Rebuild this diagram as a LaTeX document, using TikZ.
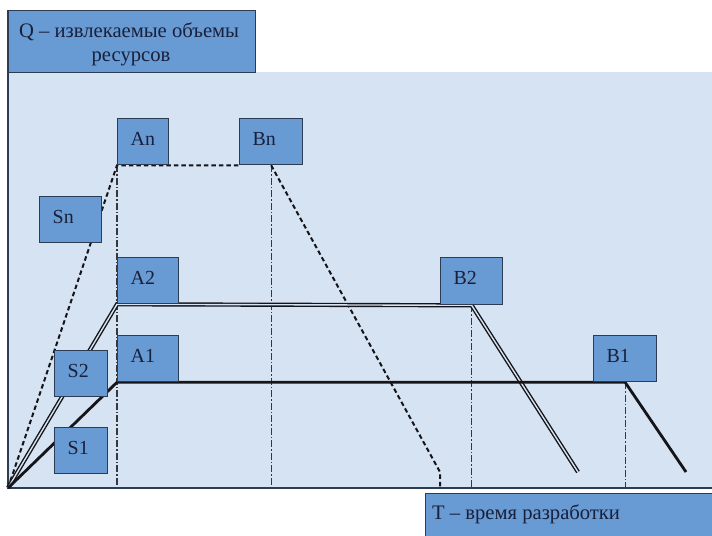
\documentclass[tikz,border=0pt]{standalone}
\usepackage{fontspec}
\setmainfont{Liberation Serif}
\definecolor{bgpanel}{RGB}{214,227,242}
\definecolor{boxfill}{RGB}{104,154,212}
\definecolor{boxline}{RGB}{45,60,85}
\definecolor{txt}{RGB}{25,32,58}
\definecolor{ink}{RGB}{20,20,25}
\tikzset{
  lbox/.style={draw=boxline, fill=boxfill, line width=1.3bp, anchor=north west,
    inner sep=0pt},
  ltext/.style={text=txt, font=\fontsize{20}{22}\selectfont, inner sep=0pt, anchor=base west},
  sline/.style={draw=ink, line width=2.8bp, line join=miter},
  dline/.style={draw=ink, line width=1.4bp, double=bgpanel, double distance=1.4bp},
  dashline/.style={draw=ink, line width=2bp, dash pattern=on 4.5bp off 3bp},
  dotdash/.style={draw=ink!85, line width=1.2bp, dash pattern=on 7bp off 2bp on 1.5bp off 2bp},
}
\begin{document}
\begin{tikzpicture}[x=1bp,y=-1bp]
\useasboundingbox (0,0) rectangle (712,536);
% panel
\fill[bgpanel] (8,72) rectangle (712,488);
\coordinate (O) at (8,488);
% axis
\draw[boxline, line width=1.8bp] (8,10) -- (O) -- (712,488);
% axis label boxes
\node[lbox, minimum width=247bp, minimum height=62bp] (Q) at (8,10) {};
\node[ltext, font=\fontsize{20.7}{22}\selectfont] (Qt1) at (19,38) {Q -- извлекаемые объемы};
\node[ltext, font=\fontsize{20.7}{22}\selectfont, anchor=base] (Qt2) at (131,62) {ресурсов};
\node[lbox, minimum width=300bp, minimum height=46bp] (T) at (425,493) {};
\node[ltext, font=\fontsize{20.7}{22}\selectfont] (Tt) at (432,519) {T -- время разработки};
% coordinates for free ends
\coordinate (dE) at (440,472);
\coordinate (dF) at (440,488);
\coordinate (e2) at (578,472);
\coordinate (e1) at (686,472);
% point boxes (positions)
\path
  (117,118) node[lbox, minimum width=51bp, minimum height=46bp] (An) {}
  (239,118) node[lbox, minimum width=63bp, minimum height=46bp] (Bn) {}
  (39,196)  node[lbox, minimum width=62bp, minimum height=46bp] (Sn) {}
  (117,257) node[lbox, minimum width=61bp, minimum height=46bp] (A2) {}
  (440,257) node[lbox, minimum width=62bp, minimum height=47bp] (B2) {}
  (54,350)  node[lbox, minimum width=53bp, minimum height=46bp] (S2) {}
  (117,335) node[lbox, minimum width=61bp, minimum height=46bp] (A1) {}
  (593,335) node[lbox, minimum width=63bp, minimum height=46bp] (B1) {}
  (54,427)  node[lbox, minimum width=53bp, minimum height=46bp] (S1) {};
% vertical projections
\draw[dotdash] (An.south west) -- (An.south west |- O);
\draw[dotdash] (Bn.south) -- (Bn.south |- O);
\draw[dotdash] (B2.south) -- (B2.south |- O);
\draw[dotdash] (B1.south) -- (B1.south |- O);
% curves
\draw[dashline] (O) -- (An.south west) -- (Bn.south west);
\draw[dashline] (Bn.south) -- (dE) -- (dF);
\draw[dline] (O) -- (A2.south west) -- (B2.south) -- (e2);
\draw[sline] (O) -- (A1.south west) -- (B1.south) -- (e1);
% redraw boxes over lines, with labels
\foreach \n/\w/\h in {An/51/46, Bn/63/46, Sn/62/46, A2/61/46, B2/62/47,
  S2/53/46, A1/61/46, B1/63/46, S1/53/46}{
  \node[lbox, minimum width=\w bp, minimum height=\h bp, anchor=center] at (\n.center) {};
  \node[ltext] at ([xshift=13.5bp, yshift=-27.5bp]\n.north west) {\n};
}
\end{tikzpicture}
\end{document}
